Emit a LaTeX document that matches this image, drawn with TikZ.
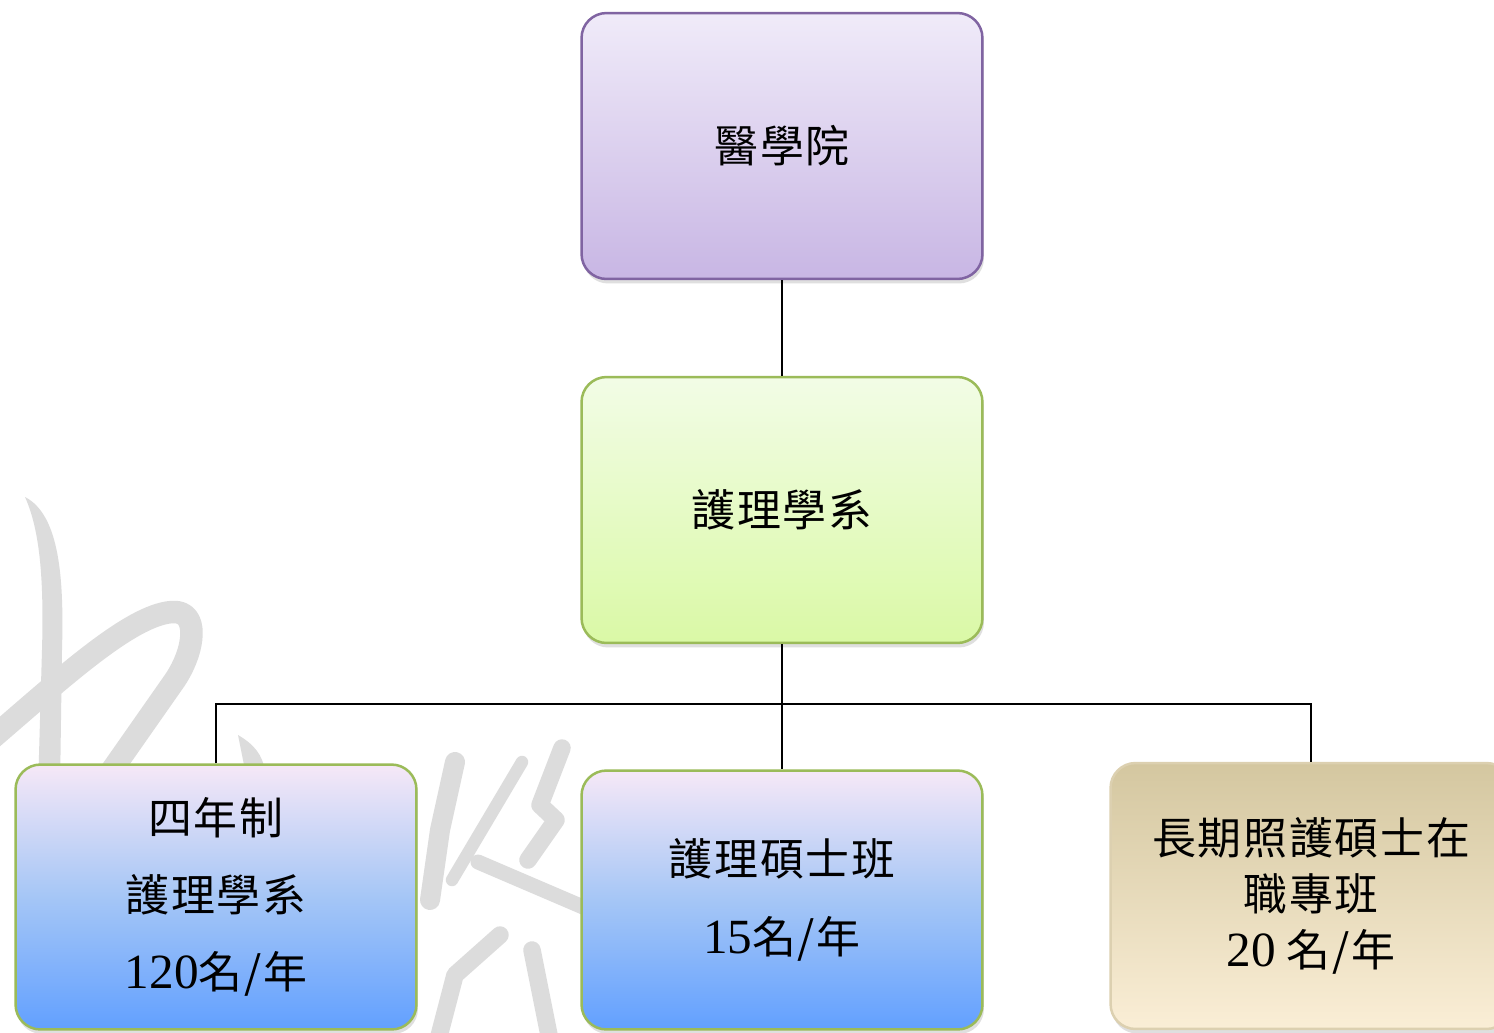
\documentclass[tikz,border=0pt]{standalone}
\usepackage{xcolor}
\usepackage{fontspec}
\setmainfont{Liberation Serif}
\newfontfamily\cjk[LetterSpace=4]{Noto Sans CJK TC}
\usepackage{tikz}
\usetikzlibrary{shapes,arrows,positioning,calc,shadows}

\definecolor{purpleline}{RGB}{128,100,162}
\definecolor{purpletop}{RGB}{240,235,249}
\definecolor{purplebot}{RGB}{200,182,228}
\definecolor{greenline}{RGB}{155,187,89}
\definecolor{greentop}{RGB}{242,252,230}
\definecolor{greenbot}{RGB}{218,249,166}
\definecolor{pinktop}{RGB}{246,232,247}
\definecolor{bluemid}{RGB}{165,198,246}
\definecolor{bluebot}{RGB}{98,160,255}
\definecolor{tantop}{RGB}{212,199,160}
\definecolor{tanbot}{RGB}{250,238,214}
\definecolor{tanline}{RGB}{220,208,176}
\definecolor{inkgray}{RGB}{220,220,220}

\newcommand\bignum[1]{{\fontsize{28}{44}\selectfont #1}}

\begin{document}
\begin{tikzpicture}[x=0.02cm, y=-0.02cm,
    unitbox/.style={rounded corners=0.5cm, line width=0.05cm, minimum width=8.02cm, minimum height=5.32cm,
        align=center, font=\fontsize{25}{44}\selectfont,
        drop shadow={opacity=0.25, shadow xshift=0.03cm, shadow yshift=-0.09cm}},
    ink/.style={draw=inkgray, line cap=round, line join=round}]
    \useasboundingbox (0,0) rectangle (1494,1032);
    \fill[white] (0,0) rectangle (1494,1032);

    \fill[inkgray] (25,497) .. controls (60,515) and (64,580) .. (62,650) -- (60,790) -- (38,790) -- (42,650) .. controls (44,580) and (40,530) .. cycle;
    \draw[ink, line width=0.45cm] (-10,740) .. controls (60,680) and (130,615) .. (172,612) .. controls (200,610) and (195,650) .. (175,680) -- (105,780);
    \fill[inkgray] (238,735) .. controls (255,745) and (262,755) .. (265,770) -- (245,770) -- cycle;
    \draw[ink, line width=0.4cm] (455,762) -- (440,830) -- (430,900);
    \draw[ink, line width=0.25cm] (522,762) -- (452,880);
    \draw[ink, line width=0.35cm] (562,748) -- (540,805) -- (556,820) -- (528,860);
    \draw[ink, line width=0.3cm] (478,862) -- (590,910);
    \draw[ink, line width=0.35cm] (500,935) -- (455,975) -- (438,1040);
    \draw[ink, line width=0.35cm] (532,950) -- (550,1040);

    \node[unitbox, draw=purpleline, top color=purpletop, bottom color=purplebot] (college) at (782,146) {\cjk 醫學院};
    \node[unitbox, draw=greenline, top color=greentop, bottom color=greenbot] (dept) at (782,510) {\cjk 護理學系};
    \node[unitbox, draw=greenline, top color=pinktop, bottom color=bluebot, middle color=bluemid, minimum height=5.3cm] (bachelor) at (216,897)
        {{\cjk 四年制}\\{\cjk 護理學系}\\\bignum{120}{\cjk 名/年}};
    \node[unitbox, draw=greenline, top color=pinktop, bottom color=bluebot, middle color=bluemid, minimum height=5.18cm] (master) at (782,900)
        {{\cjk 護理碩士班}\\\bignum{15}{\cjk 名/年}};
    \node[unitbox, draw=tanline, top color=tantop, bottom color=tanbot, font=\fontsize{25}{32}\selectfont] (ltc) at (1311,896)
        {{\cjk 長期照護碩士在}\\{\cjk 職專班}\\\bignum{20} {\cjk 名/年}};

    \coordinate (bus) at (782,704);
    \draw[line width=0.05cm] (college) -- (dept);
    \draw[line width=0.05cm] (dept) -- (master);
    \draw[line width=0.05cm] (bachelor.north) -- (bachelor.north |- bus) -- (ltc.north |- bus) -- (ltc.north);
\end{tikzpicture}
\end{document}
